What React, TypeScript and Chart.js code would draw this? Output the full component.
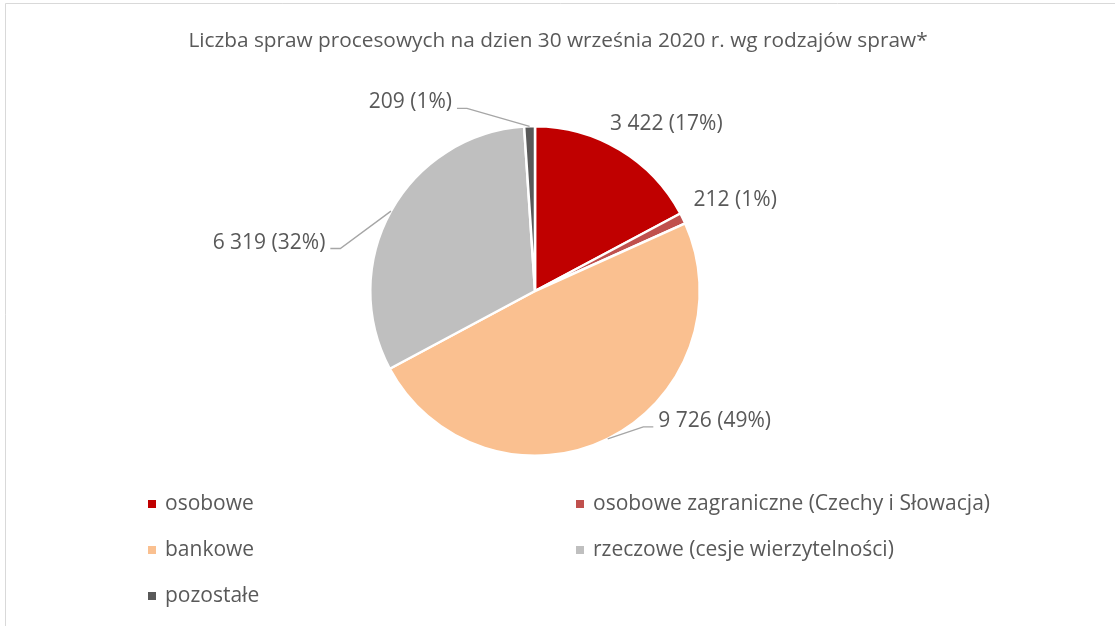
import React, { useEffect, useRef } from 'react';
import { Chart, registerables } from 'chart.js';

Chart.register(...registerables);

const chartTitle = 'Liczba spraw procesowych na dzien 30 września 2020 r. wg rodzajów spraw*';
const categories = [
  'osobowe',
  'osobowe zagraniczne (Czechy i Słowacja)',
  'bankowe',
  'rzeczowe (cesje wierzytelności)',
  'pozostałe',
];
const values = [3422, 212, 9726, 6319, 209];
const sliceColors = ['#C00000', '#C0504D', '#FAC090', '#BFBFBF', '#595959'];

// label placement relative to the outer midpoint of each slice
const labelPlacement = [
  { dx: 46.5, dy: -25.4, align: 'center', leader: false },
  { dx: 10.7, dy: -18.8, align: 'left', leader: false },
  { dx: 50.6, dy: -18, align: 'left', leader: true },
  { dx: -65.6, dy: 31.5, align: 'right', leader: true },
  { dx: -77.6, dy: -24, align: 'right', leader: true },
];

const FONT = '"Open Sans", "Noto Sans", sans-serif';
const TEXT_COLOR = '#595959';

function fmt(n: number): string {
  return String(n).replace(/\B(?=(\d{3})+(?!\d))/g, ' ');
}

const overlayPlugin = {
  id: 'overlay',
  beforeDraw(chart: any) {
    const ctx = chart.ctx;
    ctx.save();
    ctx.fillStyle = '#ffffff';
    ctx.fillRect(0, 0, chart.width, chart.height);
    ctx.strokeStyle = '#D9D9D9';
    ctx.lineWidth = 1;
    ctx.beginPath();
    ctx.moveTo(5.5, chart.height);
    ctx.lineTo(5.5, 3.5);
    ctx.lineTo(chart.width, 3.5);
    ctx.stroke();
    ctx.restore();
  },
  afterDraw(chart: any) {
    const ctx = chart.ctx;
    ctx.save();
    // title
    ctx.fillStyle = TEXT_COLOR;
    ctx.font = `20.8px ${FONT}`;
    ctx.textAlign = 'center';
    ctx.textBaseline = 'middle';
    ctx.fillText(chartTitle, 558, 41);

    // data labels
    const meta = chart.getDatasetMeta(0);
    const data = chart.data.datasets[0].data as number[];
    const total = data.reduce((a, b) => a + b, 0);
    ctx.font = `21px ${FONT}`;
    meta.data.forEach((arc: any, i: number) => {
      const p = arc.getProps(['x', 'y', 'startAngle', 'endAngle', 'outerRadius'], true);
      const mid = (p.startAngle + p.endAngle) / 2;
      const ax = p.x + Math.cos(mid) * p.outerRadius;
      const ay = p.y + Math.sin(mid) * p.outerRadius;
      const cfg = labelPlacement[i];
      const lx = ax + cfg.dx;
      const ly = ay + cfg.dy;
      const pct = Math.round((data[i] / total) * 100);
      const text = `${fmt(data[i])} (${pct}%)`;
      if (cfg.leader) {
        const side = cfg.align === 'right' ? 1 : -1;
        ctx.strokeStyle = '#A6A6A6';
        ctx.lineWidth = 1.4;
        ctx.beginPath();
        ctx.moveTo(ax, ay);
        ctx.lineTo(lx + side * 15, ly + 6);
        ctx.lineTo(lx + side * 5, ly + 6);
        ctx.stroke();
      }
      ctx.fillStyle = TEXT_COLOR;
      ctx.textAlign = cfg.align;
      ctx.textBaseline = 'middle';
      ctx.fillText(text, lx, ly);
    });

    // legend
    const cols = [148, 576];
    const rows = [504, 550, 596];
    ctx.font = `21px ${FONT}`;
    ctx.textAlign = 'left';
    ctx.textBaseline = 'middle';
    (chart.data.labels as string[]).forEach((lab: string, i: number) => {
      const x = cols[i % 2];
      const y = rows[Math.floor(i / 2)];
      ctx.fillStyle = sliceColors[i];
      ctx.fillRect(x, y - 4, 8, 8);
      ctx.fillStyle = TEXT_COLOR;
      ctx.fillText(lab, x + 17, y);
    });
    ctx.restore();
  },
};

export default function App() {
  const ref = useRef<HTMLCanvasElement | null>(null);
  useEffect(() => {
    document.body.style.margin = '0';
    if (!ref.current) return;
    const chart = new Chart(ref.current, {
      type: 'pie',
      data: {
        labels: categories,
        datasets: [
          {
            data: values,
            backgroundColor: sliceColors,
            borderColor: '#ffffff',
            borderWidth: 2.5,
          },
        ],
      },
      options: {
        responsive: false,
        animation: false,
        layout: { padding: { left: 369, right: 414, top: 125, bottom: 169 } },
        plugins: {
          legend: { display: false },
          title: { display: false },
          tooltip: { enabled: false },
        },
      },
      plugins: [overlayPlugin],
    });
    return () => chart.destroy();
  }, []);
  return <canvas ref={ref} width={1115} height={626} style={{ display: 'block' }} />;
}
